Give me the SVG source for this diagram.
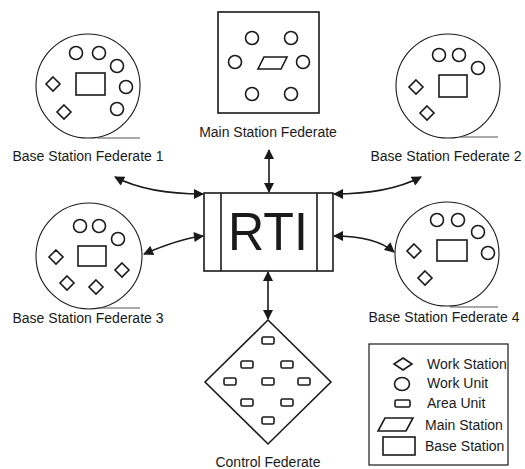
<svg xmlns="http://www.w3.org/2000/svg" width="525" height="469" viewBox="0 0 525 469">
<style>
text{font-family:"Liberation Sans",Arial,sans-serif;fill:#1a1a1a}
.lbl{font-size:14px;text-anchor:middle}
.leg{font-size:14px}
.big{fill:none;stroke:#1a1a1a;stroke-width:1.1}
.sh{fill:none;stroke:#1a1a1a;stroke-width:1.6}
.box{fill:none;stroke:#1a1a1a;stroke-width:1.6}
.base{stroke:#555;stroke-width:1.2}
</style>
<defs>
<marker id="ahs" viewBox="0 0 10 10" refX="9" refY="5" markerWidth="11" markerHeight="10" orient="auto-start-reverse" markerUnits="userSpaceOnUse">
<path d="M0,0 L10,5 L0,10 z" fill="#1a1a1a"/>
</marker>
<symbol id="ws" overflow="visible"><path d="M0,-7 L7,0 L0,7 L-7,0 Z"/></symbol>
</defs>
<rect width="525" height="469" fill="#fff"/>

<g id="bsf1">
<circle class="big" cx="88" cy="86" r="52"/>
<line class="base" x1="97" y1="138" x2="140" y2="138"/>
<g class="sh">
<circle cx="76" cy="53" r="6.5"/><circle cx="99" cy="53" r="6.5"/><circle cx="117" cy="66" r="6.5"/><circle cx="126" cy="87" r="6.5"/><circle cx="117" cy="109" r="6.5"/>
<rect x="76" y="73" width="29" height="22"/>
<use href="#ws" x="53" y="84"/><use href="#ws" x="64" y="112"/>
</g>
<text class="lbl" x="88" y="161">Base Station Federate 1</text>
</g>

<g id="msf">
<rect class="box" x="218" y="12" width="101" height="101"/>
<g class="sh">
<circle cx="252" cy="38" r="6.5"/><circle cx="291" cy="38" r="6.5"/><circle cx="235" cy="62" r="6.5"/><circle cx="303" cy="62" r="6.5"/><circle cx="252" cy="94" r="6.5"/><circle cx="291" cy="94" r="6.5"/>
<path d="M264,57 L287,57 L281,69 L258,69 Z"/>
</g>
<text class="lbl" x="268" y="137" font-size="13">Main Station Federate</text>
</g>

<g id="bsf2">
<circle class="big" cx="448" cy="86" r="52"/>
<line class="base" x1="460" y1="137" x2="498" y2="137"/>
<g class="sh">
<circle cx="439" cy="55" r="6.5"/><circle cx="459" cy="55" r="6.5"/><circle cx="478" cy="68" r="6.5"/>
<rect x="439" y="75" width="28" height="22"/>
<use href="#ws" x="416" y="87"/><use href="#ws" x="427" y="113"/>
</g>
<text class="lbl" x="446" y="161">Base Station Federate 2</text>
</g>

<g id="bsf3">
<circle class="big" cx="89" cy="256" r="53"/>
<line class="base" x1="97" y1="308" x2="140" y2="308"/>
<g class="sh">
<circle cx="80" cy="226" r="6.5"/><circle cx="99" cy="226" r="6.5"/><circle cx="118" cy="239" r="6.5"/>
<rect x="78" y="246" width="28" height="20"/>
<use href="#ws" x="56" y="257"/><use href="#ws" x="122" y="270"/><use href="#ws" x="67" y="283"/><use href="#ws" x="96" y="287"/>
</g>
<text class="lbl" x="88" y="323">Base Station Federate 3</text>
</g>

<g id="bsf4">
<circle class="big" cx="447" cy="254" r="52"/>
<line class="base" x1="450" y1="307" x2="498" y2="307"/>
<g class="sh">
<circle cx="437" cy="220" r="6.5"/><circle cx="458" cy="220" r="6.5"/><circle cx="478" cy="232" r="6.5"/><circle cx="488" cy="253" r="6.5"/>
<rect x="437" y="240" width="30" height="21"/>
<use href="#ws" x="414" y="251"/><use href="#ws" x="425" y="278"/>
</g>
<text class="lbl" x="444" y="322">Base Station Federate 4</text>
</g>

<g id="rti">
<rect class="box" x="204" y="193" width="129" height="78"/>
<line class="box" x1="221" y1="193" x2="221" y2="271"/>
<line class="box" x1="317" y1="193" x2="317" y2="271"/>
<text x="268" y="250" font-size="53" text-anchor="middle" textLength="80" lengthAdjust="spacingAndGlyphs">RTI</text>
</g>

<g id="cf">
<path class="box" d="M268,320 L331,382 L268,444 L205,382 Z"/>
<g class="sh" stroke-width="1.5">
<rect x="262" y="337" width="12" height="7" rx="1.5"/>
<rect x="241" y="361" width="12" height="7" rx="1.5"/><rect x="281" y="361" width="12" height="7" rx="1.5"/>
<rect x="224" y="378" width="12" height="7" rx="1.5"/><rect x="262" y="378" width="12" height="7" rx="1.5"/><rect x="298" y="378" width="12" height="7" rx="1.5"/>
<rect x="241" y="399" width="12" height="7" rx="1.5"/><rect x="281" y="399" width="12" height="7" rx="1.5"/>
<rect x="262" y="417" width="12" height="7" rx="1.5"/>
</g>
<text class="lbl" x="268" y="467">Control Federate</text>
</g>

<g id="legend">
<rect x="369" y="344" width="139" height="121" fill="none" stroke="#1a1a1a" stroke-width="1.2"/>
<g class="sh">
<path d="M403,358 L412,364 L403,370 L394,364 Z"/>
<ellipse cx="402" cy="384" rx="7.5" ry="6.5"/>
<rect x="395" y="400" width="15" height="7" rx="1.5"/>
<path d="M385,418 L413,418 L406,431 L378,431 Z"/>
<rect x="383" y="437" width="32" height="18"/>
</g>
<text class="leg" x="427" y="369">Work Station</text>
<text class="leg" x="427" y="388">Work Unit</text>
<text class="leg" x="427" y="408">Area Unit</text>
<text class="leg" x="425" y="430">Main Station</text>
<text class="leg" x="425" y="451">Base Station</text>
</g>

<g id="connectors" fill="none" stroke="#1a1a1a" stroke-width="1.6" marker-start="url(#ahs)" marker-end="url(#ahs)">
<path d="M269,150 L269,192"/>
<path d="M268,272 L268,319"/>
<path d="M115,177 C140,190 172,194 203,194"/>
<path d="M421,177 C396,190 365,194 334,194"/>
<path d="M144,254 C165,245 185,238 203,236"/>
<path d="M334,236 C360,236 380,240 394,252"/>
</g>
</svg>
